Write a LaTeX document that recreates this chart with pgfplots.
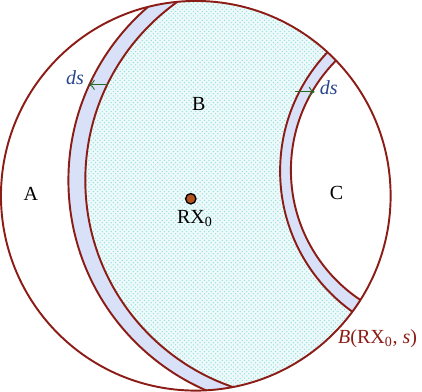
\documentclass[border=0pt]{standalone}
\usepackage{pgfplots}
\pgfplotsset{compat=1.18}
\usepackage{fontspec}
\setmainfont{Liberation Serif}
\usetikzlibrary{patterns,arrows.meta}

\definecolor{rim}{RGB}{140,28,22}
\definecolor{band}{RGB}{216,225,247}
\definecolor{inner}{RGB}{238,250,250}
\definecolor{dotc}{RGB}{150,222,226}
\definecolor{arrowc}{RGB}{40,105,40}
\definecolor{dslab}{RGB}{40,70,140}
\definecolor{pt}{RGB}{178,84,28}

\begin{document}
\begin{tikzpicture}
\begin{axis}[
  scale only axis, width=10cm, height=9.597cm,
  xmin=0, xmax=422, ymin=0, ymax=405,
  hide axis, clip=false,
  font=\fontsize{13.5}{16}\selectfont,
]
% circles: main ball, left band (outer/inner), right band (outer/inner)
\def\mainc{(axis cs:202,205) circle[radius=195]}
\def\lo{(axis cs:303.6,220.4) circle[radius=229.1]}
\def\li{(axis cs:310.3,220.6) circle[radius=218.9]}
\def\ro{(axis cs:459.5,229.7) circle[radius=173.1]}
\def\ri{(axis cs:453.2,230.6) circle[radius=156.0]}

\begin{scope}
  \clip \mainc;
  \fill[white] \mainc;
  \fill[band] \lo;
  \fill[inner] \li;
  \fill[pattern=crosshatch dots, pattern color=dotc] \li;
  \fill[band] \ro;
  \fill[white] \ri;
  \draw[rim, line width=1.3pt] \lo;
  \draw[rim, line width=1.3pt] \li;
  \draw[rim, line width=1.3pt] \ro;
  \draw[rim, line width=1.3pt] \ri;
\end{scope}
\draw[rim, line width=1.3pt] \mainc;

% ds arrows across the bands
\draw[arrowc, line width=0.6pt, -{To[length=4pt,width=7pt]}] (axis cs:114,316) -- (axis cs:95,316);
\draw[arrowc, line width=0.6pt, -{To[length=4pt,width=7pt]}] (axis cs:301,309) -- (axis cs:321,309);
\node[dslab] at (axis cs:81,323) {\textit{ds}};
\node[dslab] at (axis cs:335,313) {\textit{ds}};

% region labels
\node at (axis cs:37,207) {A};
\node at (axis cs:205,297) {B};
\node at (axis cs:343,208) {C};
\node[rim] at (axis cs:384,62) {\textit{B}(RX\textsubscript{0}, \textit{s})};

% the point RX0
\addplot[only marks, mark=*, mark size=3.5pt, mark options={fill=pt, draw=black, line width=0.9pt}]
  coordinates {(197,202)};
\node at (axis cs:201,182) {RX\textsubscript{0}};
\end{axis}
\end{tikzpicture}
\end{document}
